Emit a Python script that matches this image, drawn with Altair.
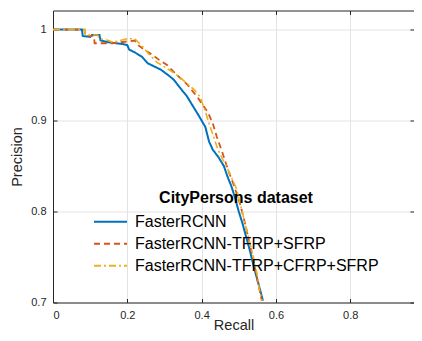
import altair as alt
import pandas as pd

series_names = ["FasterRCNN", "FasterRCNN-TFRP+SFRP", "FasterRCNN-TFRP+CFRP+SFRP"]
series_colors = ["#0072BD", "#D95319", "#EDB120"]
series_dashes = [[1, 0], [6, 4], [7, 3, 2, 3]]

x_ticks = [0, 0.2, 0.4, 0.6, 0.8]
y_ticks = [0.7, 0.8, 0.9, 1.0]

recall_base = [0, 0.078, 0.080, 0.100, 0.105, 0.125, 0.128, 0.150, 0.170, 0.190, 0.200,
               0.205, 0.220, 0.240, 0.255, 0.270, 0.290, 0.310, 0.325, 0.340, 0.360,
               0.375, 0.390, 0.400, 0.410, 0.415, 0.420, 0.430, 0.445, 0.460, 0.470,
               0.480, 0.490, 0.500, 0.510, 0.520, 0.530, 0.540, 0.550, 0.560, 0.565]
prec_base = [1.0, 1.0, 0.993, 0.992, 0.994, 0.994, 0.988, 0.986, 0.985, 0.984, 0.983,
             0.978, 0.975, 0.970, 0.963, 0.960, 0.956, 0.950, 0.945, 0.937, 0.927,
             0.917, 0.907, 0.900, 0.893, 0.885, 0.877, 0.868, 0.860, 0.850, 0.838,
             0.828, 0.815, 0.800, 0.787, 0.772, 0.757, 0.740, 0.725, 0.710, 0.702]

recall_ts = [0, 0.085, 0.087, 0.110, 0.112, 0.160, 0.180, 0.200, 0.220, 0.225, 0.229,
             0.245, 0.261, 0.288, 0.307, 0.334, 0.363, 0.390, 0.417, 0.430, 0.441,
             0.455, 0.471, 0.485, 0.503, 0.512, 0.522, 0.532, 0.541, 0.550, 0.557, 0.562]
prec_ts = [1.0, 1.0, 0.993, 0.993, 0.985, 0.985, 0.986, 0.987, 0.988, 0.986, 0.983,
           0.978, 0.974, 0.966, 0.961, 0.950, 0.939, 0.925, 0.909, 0.897, 0.882,
           0.866, 0.846, 0.831, 0.809, 0.795, 0.778, 0.760, 0.743, 0.725, 0.712, 0.702]

recall_tcs = [0, 0.085, 0.087, 0.120, 0.125, 0.150, 0.160, 0.180, 0.200, 0.220, 0.225,
              0.242, 0.260, 0.280, 0.300, 0.323, 0.340, 0.360, 0.380, 0.396, 0.410,
              0.420, 0.430, 0.444, 0.456, 0.468, 0.482, 0.495, 0.503, 0.515, 0.530,
              0.540, 0.549, 0.555, 0.563]
prec_tcs = [1.0, 1.0, 0.994, 0.994, 0.990, 0.988, 0.986, 0.988, 0.990, 0.990, 0.988,
            0.981, 0.972, 0.964, 0.959, 0.953, 0.948, 0.941, 0.934, 0.926, 0.910,
            0.897, 0.885, 0.868, 0.858, 0.849, 0.836, 0.824, 0.810, 0.790, 0.765,
            0.749, 0.732, 0.715, 0.702]

rows = []
for name, rs, ps in zip(series_names,
                        [recall_base, recall_ts, recall_tcs],
                        [prec_base, prec_ts, prec_tcs]):
    for i, (r, p) in enumerate(zip(rs, ps)):
        rows.append({"series": name, "recall": r, "precision": p, "order": i})
df = pd.DataFrame(rows)

W, H = 361, 292
FONT = "Liberation Sans"
AX = "#262626"
GRID = "#e3e3e3"

x_scale = alt.Scale(domain=[0, 0.9717], nice=False, zero=False)
y_scale = alt.Scale(domain=[0.7, 1.021], nice=False, zero=False)

legend_cfg = dict(
    title="CityPersons dataset", orient="none", legendX=40, legendY=179,
    direction="vertical",
    titleFont=FONT, titleFontSize=16, titleFontWeight="bold", titleColor="black",
    titleAnchor="middle", titlePadding=5.5, titleLimit=500,
    labelFont=FONT, labelFontSize=16, labelColor="black", labelOffset=7,
    labelLimit=500,
    symbolType="stroke", symbolSize=1089, symbolStrokeWidth=2,
    clipHeight=21.6, rowPadding=0, padding=0, symbolOffset=0,
)
color = alt.Color("series:N", sort=series_names,
                  scale=alt.Scale(domain=series_names, range=series_colors),
                  legend=alt.Legend(**legend_cfg))
dash = alt.StrokeDash("series:N", sort=series_names,
                      scale=alt.Scale(domain=series_names, range=series_dashes),
                      legend=alt.Legend(**legend_cfg))

x_lab = "datum.value == 0 ? '0' : format(datum.value, '.1f')"
y_lab = "datum.value == 1 ? '1' : format(datum.value, '.1f')"

main_x = alt.Axis(values=x_ticks, labelExpr=x_lab, title="Recall", grid=True,
                  gridColor=GRID, domainColor=AX, domainWidth=1, ticks=False,
                  labelPadding=7, labelFont=FONT, labelFontSize=11, labelColor=AX,
                  titleFont=FONT, titleFontSize=14.5, titleFontWeight="normal",
                  titleColor=AX, titlePadding=-2)
main_y = alt.Axis(values=y_ticks, labelExpr=y_lab, title="Precision", grid=True,
                  gridColor=GRID, domainColor=AX, domainWidth=1, ticks=False,
                  labelPadding=7, labelFont=FONT, labelFontSize=11, labelColor=AX,
                  titleFont=FONT, titleFontSize=14.5, titleFontWeight="normal",
                  titleColor=AX, titlePadding=6)

tick_x_bottom = alt.Axis(orient="top", offset=-H, values=x_ticks, labels=False,
                         domain=False, grid=False, tickSize=4, tickColor=AX, title=None)
tick_y_left = alt.Axis(orient="right", offset=-W, values=y_ticks, labels=False,
                       domain=False, grid=False, tickSize=4, tickColor=AX, title=None)
tick_x_top = alt.Axis(orient="bottom", offset=-H, values=x_ticks, labels=False,
                      domain=True, domainColor=AX, grid=False, tickSize=4,
                      tickColor=AX, title=None)
tick_y_right = alt.Axis(orient="left", offset=-W, values=y_ticks, labels=False,
                        domain=False, grid=False, tickSize=4, tickColor=AX, title=None)

base = alt.Chart(df)


def layer(name, xa, ya, sw):
    return base.transform_filter(alt.datum.series == name).mark_line(
        strokeWidth=sw, clip=True
    ).encode(
        x=alt.X("recall:Q", scale=x_scale, axis=xa),
        y=alt.Y("precision:Q", scale=y_scale, axis=ya),
        color=color,
        strokeDash=dash,
        order="order:Q",
    )


chart = alt.layer(
    layer(series_names[0], main_x, main_y, 2),
    layer(series_names[1], tick_x_bottom, tick_y_left, 1.8),
    layer(series_names[2], tick_x_top, tick_y_right, 1.6),
).resolve_axis(x="independent", y="independent").properties(
    width=W, height=H,
    autosize=alt.AutoSizeParams(type="none"),
    padding={"left": 45, "top": 2.5, "right": 0, "bottom": 30.5},
    background="white",
).configure_view(stroke="transparent")

chart.save("out.html", embed_options={"renderer": "svg", "actions": False})
